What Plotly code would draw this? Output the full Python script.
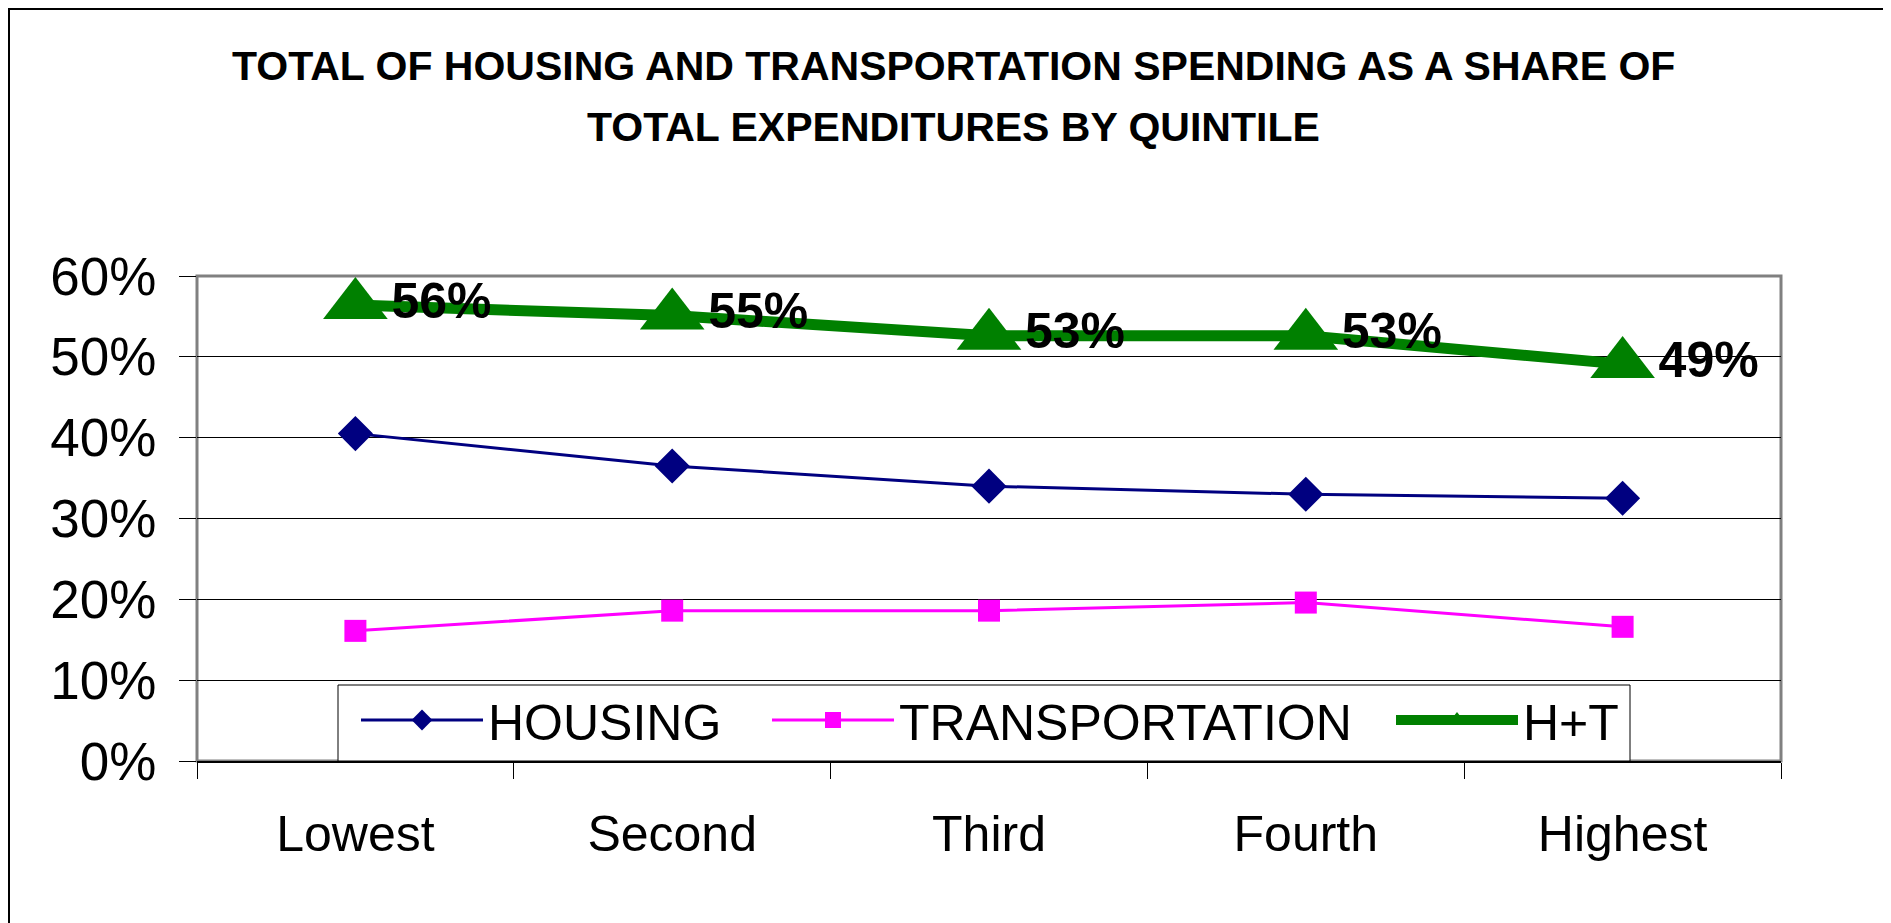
import plotly.graph_objects as go

quintiles = ["Lowest", "Second", "Third", "Fourth", "Highest"]
housing = [0.405, 0.365, 0.340, 0.330, 0.325]
transportation = [0.161, 0.186, 0.186, 0.196, 0.166]
h_plus_t = [0.564, 0.551, 0.526, 0.526, 0.491]
y_ticks = [0, 0.1, 0.2, 0.3, 0.4, 0.5, 0.6]
title_lines = ["TOTAL OF HOUSING AND TRANSPORTATION SPENDING AS A SHARE OF",
               "TOTAL EXPENDITURES BY QUINTILE"]

FONT = "Liberation Sans, Arial, sans-serif"

# figure geometry (page body has an 8px margin)
W, H = 1883, 915
L, R, T, B = 189, 110, 268, 162
pw, ph = W - L - R, H - T - B


def px_x(x):
    return (x - L) / pw


def px_y(y):
    return ((H - B) - y) / ph


fig = go.Figure()
fig.add_trace(go.Scatter(
    x=quintiles, y=housing, name="HOUSING", mode="lines+markers",
    line=dict(color="#000080", width=3),
    marker=dict(symbol="diamond", size=27, color="#000080"),
    legend="legend",
))
fig.add_trace(go.Scatter(
    x=quintiles, y=transportation, name="TRANSPORTATION", mode="lines+markers",
    line=dict(color="#FF00FF", width=3),
    marker=dict(symbol="square", size=22, color="#FF00FF"),
    legend="legend2",
))
fig.add_trace(go.Scatter(
    x=quintiles, y=h_plus_t, name="H+T", mode="lines+markers+text",
    line=dict(color="#008000", width=11),
    marker=dict(symbol="triangle-up", size=56, color="#008000"),
    texttemplate="%{y:.0%}", textposition="middle right",
    textfont=dict(family=FONT, size=50, color="black", weight="bold"),
    legend="legend3",
))

leg_common = dict(
    orientation="h", xanchor="left", yanchor="middle", y=px_y(712),
    bgcolor="rgba(0,0,0,0)", borderwidth=0,
    font=dict(family=FONT, size=50, color="black"),
    itemwidth=122, itemsizing="trace",
)

fig.update_layout(
    width=W, height=H,
    margin=dict(l=L, r=R, t=T, b=B),
    paper_bgcolor="white", plot_bgcolor="white",
    font=dict(family=FONT, color="black"),
    showlegend=True,
    legend=dict(x=px_x(348), **leg_common),
    legend2=dict(x=px_x(759), **leg_common),
    legend3=dict(x=px_x(1383), **leg_common),
    xaxis=dict(
        type="category", range=[-0.5, 4.5],
        showline=True, linecolor="black", linewidth=2,
        ticks="outside", tickson="boundaries", ticklen=16, tickcolor="black", tickwidth=1,
        showgrid=False, tickfont=dict(family=FONT, size=50, color="black"),
        ticklabelstandoff=28,
    ),
    yaxis=dict(
        range=[0, 0.6], tickvals=y_ticks, tickformat=".0%",
        showline=False, ticks="outside", ticklen=17, tickcolor="black", tickwidth=1,
        showgrid=True, gridcolor="black", gridwidth=1, zeroline=False,
        tickfont=dict(family=FONT, size=53, color="black"),
        ticklabelstandoff=12,
    ),
    annotations=[
        dict(text="<b>" + line + "</b>", xref="paper", yref="paper",
             x=px_x(945), y=px_y(yc), xanchor="center", yanchor="middle",
             showarrow=False, font=dict(family=FONT, size=41, color="black"))
        for line, yc in zip(title_lines, [58, 119])
    ],
    shapes=[
        # gray plot-area frame
        dict(type="rect", xref="paper", yref="paper", x0=0, x1=1, y0=0, y1=1,
             line=dict(color="#808080", width=3), layer="below"),
        # legend box
        dict(type="rect", xref="paper", yref="paper",
             x0=px_x(330), x1=px_x(1622), y0=0, y1=px_y(677),
             line=dict(color="black", width=1), fillcolor="white", layer="above"),
        # outer chart border
        dict(type="rect", xref="paper", yref="paper",
             x0=px_x(1), x1=px_x(1876), y0=px_y(H + 20), y1=px_y(1),
             line=dict(color="black", width=2), layer="below"),
    ],
)

fig.write_html("out.html")
